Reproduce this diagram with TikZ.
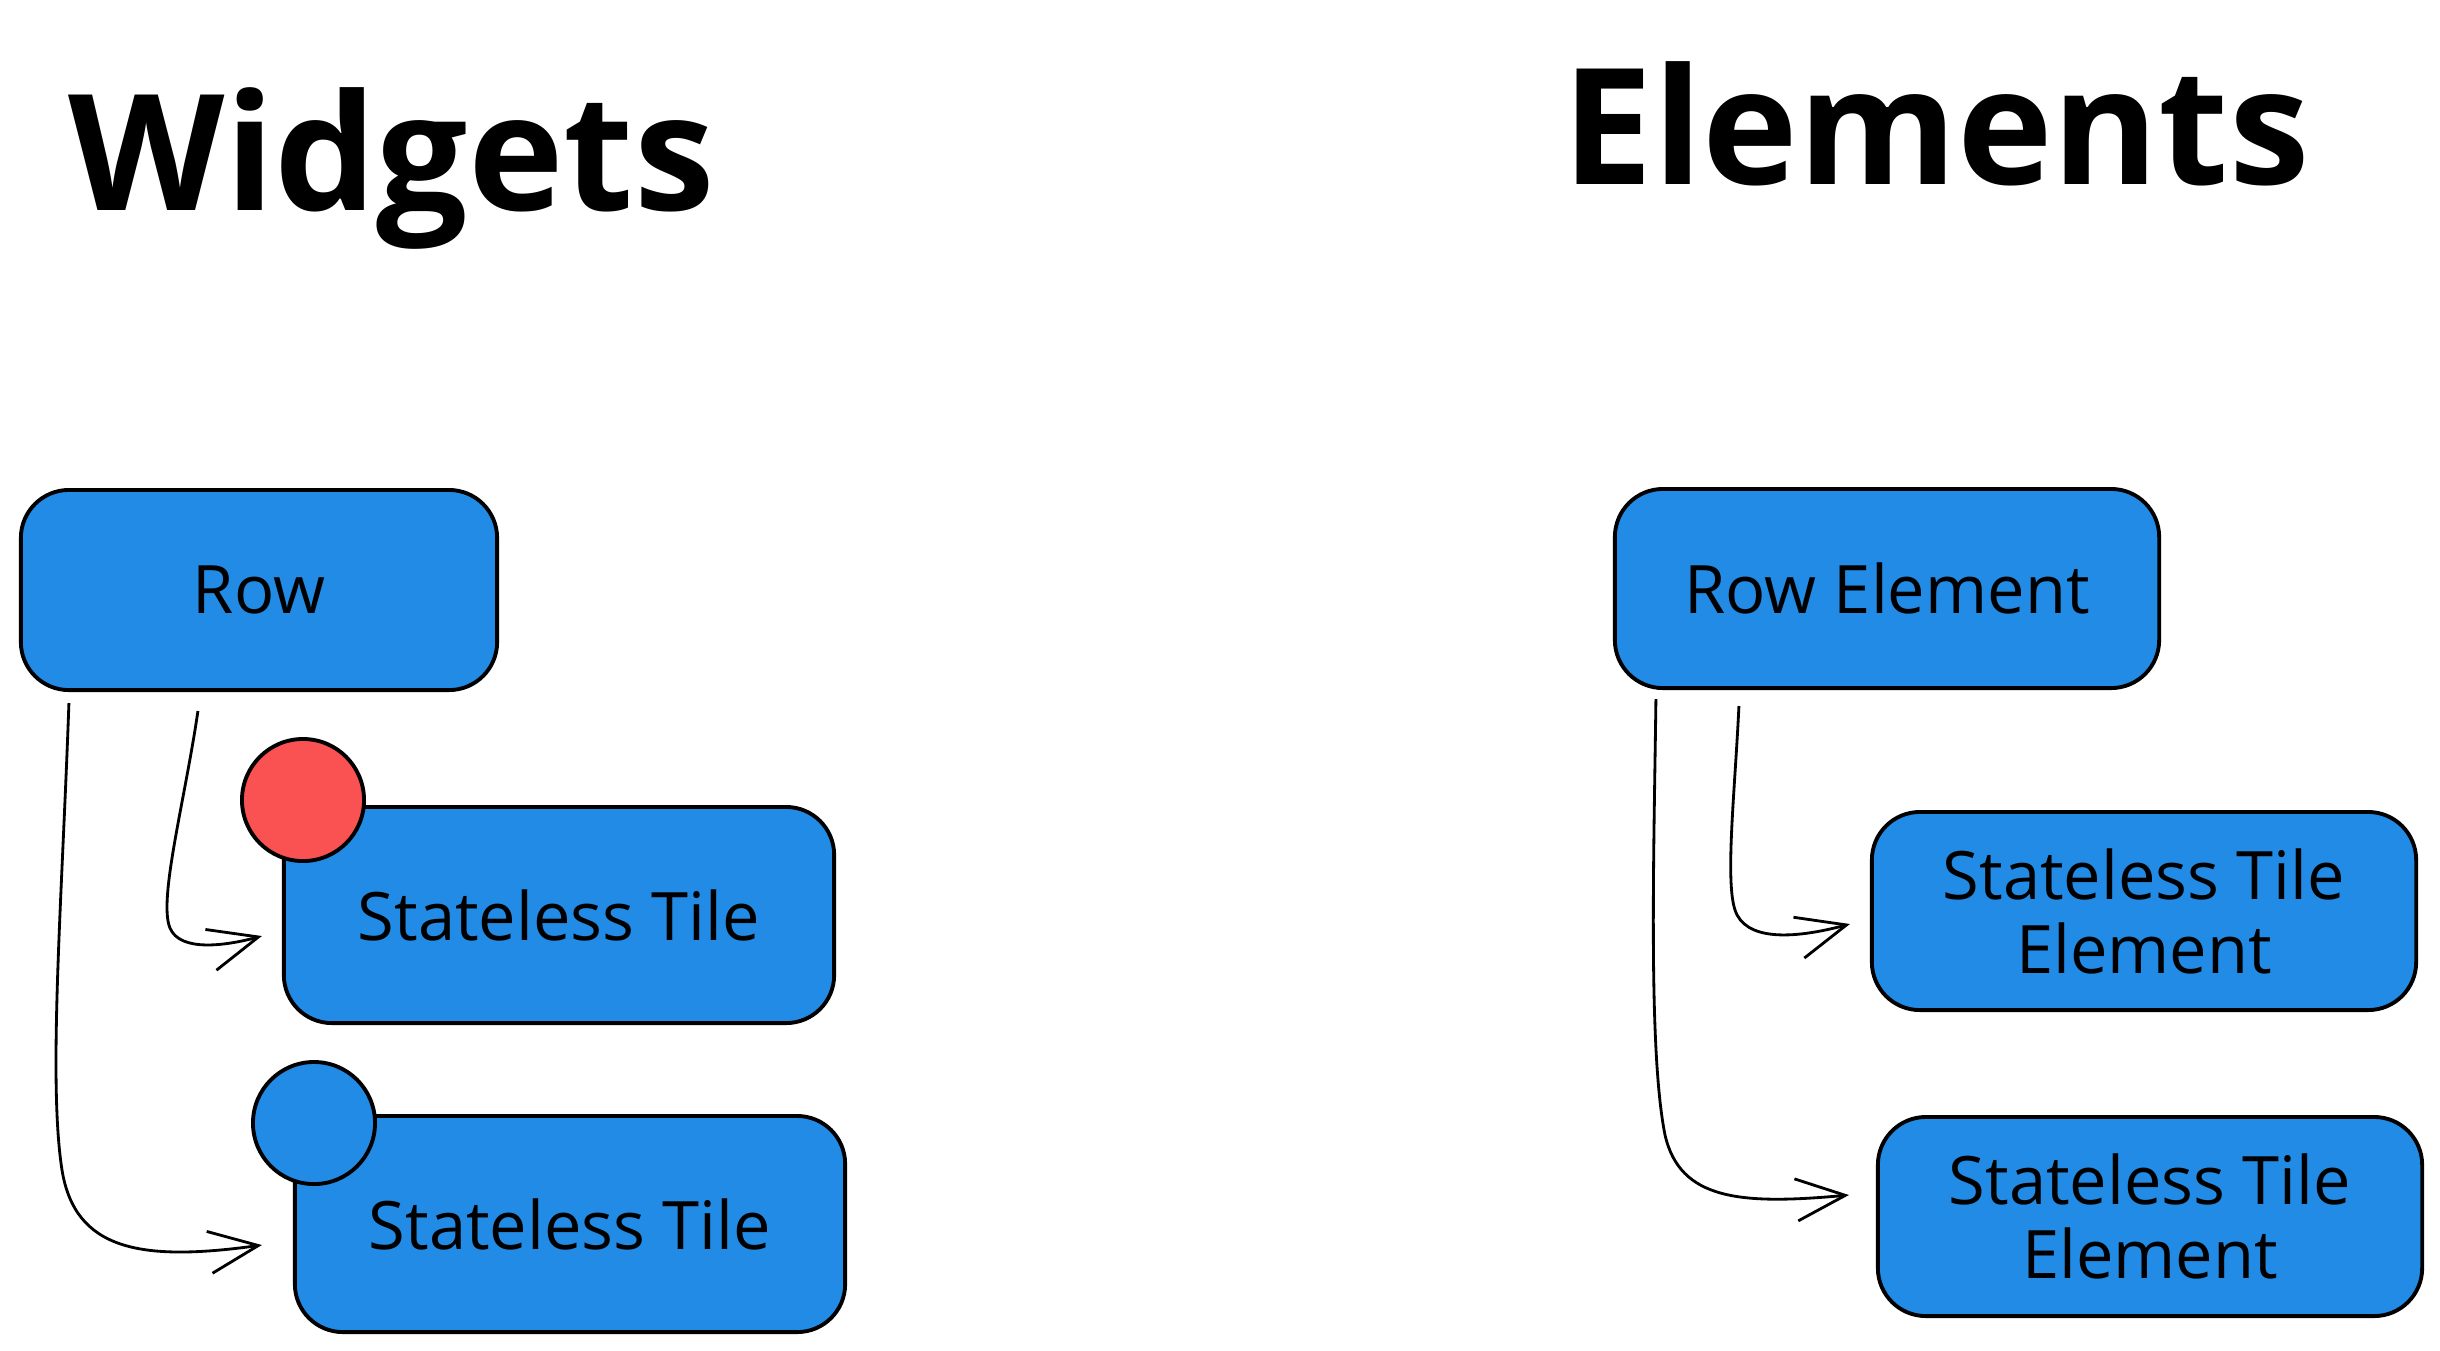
\documentclass[tikz,border=0pt]{standalone}
\usepackage{fontspec}
\setmainfont{Open Sans}
\usetikzlibrary{arrows.meta,calc}
\definecolor{exblue}{HTML}{228BE6}
\definecolor{exred}{HTML}{FA5252}
\begin{document}
\begin{tikzpicture}[x=0.01cm,y=-0.01cm,
  box/.style={draw=black,fill=exblue,line width=1.1pt,rounded corners=0.48cm,
    inner sep=0pt,font=\fontsize{19}{21}\selectfont,align=center},
  badge/.style={draw=black,line width=1.1pt,circle,minimum size=1.22cm,inner sep=0pt},
  conn/.style={draw=black,line width=0.8pt,-{Straight Barb[length=14pt,width=12pt,line width=0.8pt]}},
  title/.style={font=\fontsize{46}{50}\selectfont\bfseries,anchor=base west,inner sep=0pt}]
\useasboundingbox (0,0) rectangle (2440,1350);
\fill[white] (0,0) rectangle (2440,1350);

% titles
\node[title] (tw) at (68,210) {Widgets};
\node[title] (te) at (1562,184) {Elements};

% left side
\node[box,minimum width=4.76cm,minimum height=2.0cm] (row) at (259,590) {Row};
\node[box,minimum width=5.50cm,minimum height=2.16cm] (t1) at (559,915) {Stateless Tile};
\node[box,minimum width=5.50cm,minimum height=2.16cm] (t2) at (570,1224) {Stateless Tile};
\node[badge,fill=exred] (c1) at (303,800) {};
\node[badge,fill=exblue] (c2) at (314,1123) {};

\coordinate (a1s) at ($(row.south west)+(179,19)$);
\coordinate (a2s) at ($(row.south west)+(50,11)$);
\draw[conn] (a1s) .. controls (185,800) and (158,900) .. (170,928)
  .. controls (180,952) and (225,946) .. ($(t1.west)+(-20,21)$);
\draw[conn] (a2s) .. controls (62,900) and (48,1080) .. (62,1170)
  .. controls (75,1250) and (140,1262) .. ($(t2.west)+(-31,21)$);

% right side
\node[box,minimum width=5.44cm,minimum height=1.99cm] (rowe) at (1887,588.5) {Row Element};
\node[box,minimum width=5.44cm,minimum height=1.98cm] (te1) at (2144,911) {Stateless Tile\\Element};
\node[box,minimum width=5.44cm,minimum height=1.99cm] (te2) at (2150,1216.5) {Stateless Tile\\Element};

\coordinate (e1s) at ($(rowe.south west)+(126,16)$);
\coordinate (e2s) at ($(rowe.south west)+(43,9)$);
\draw[conn] (e1s) .. controls (1735,790) and (1725,880) .. (1735,910)
  .. controls (1745,940) and (1790,940) .. ($(te1.west)+(-20,13)$);
\draw[conn] (e2s) .. controls (1654,850) and (1648,1050) .. (1665,1135)
  .. controls (1680,1200) and (1740,1205) .. ($(te2.west)+(-27,-21.5)$);
\end{tikzpicture}
\end{document}
